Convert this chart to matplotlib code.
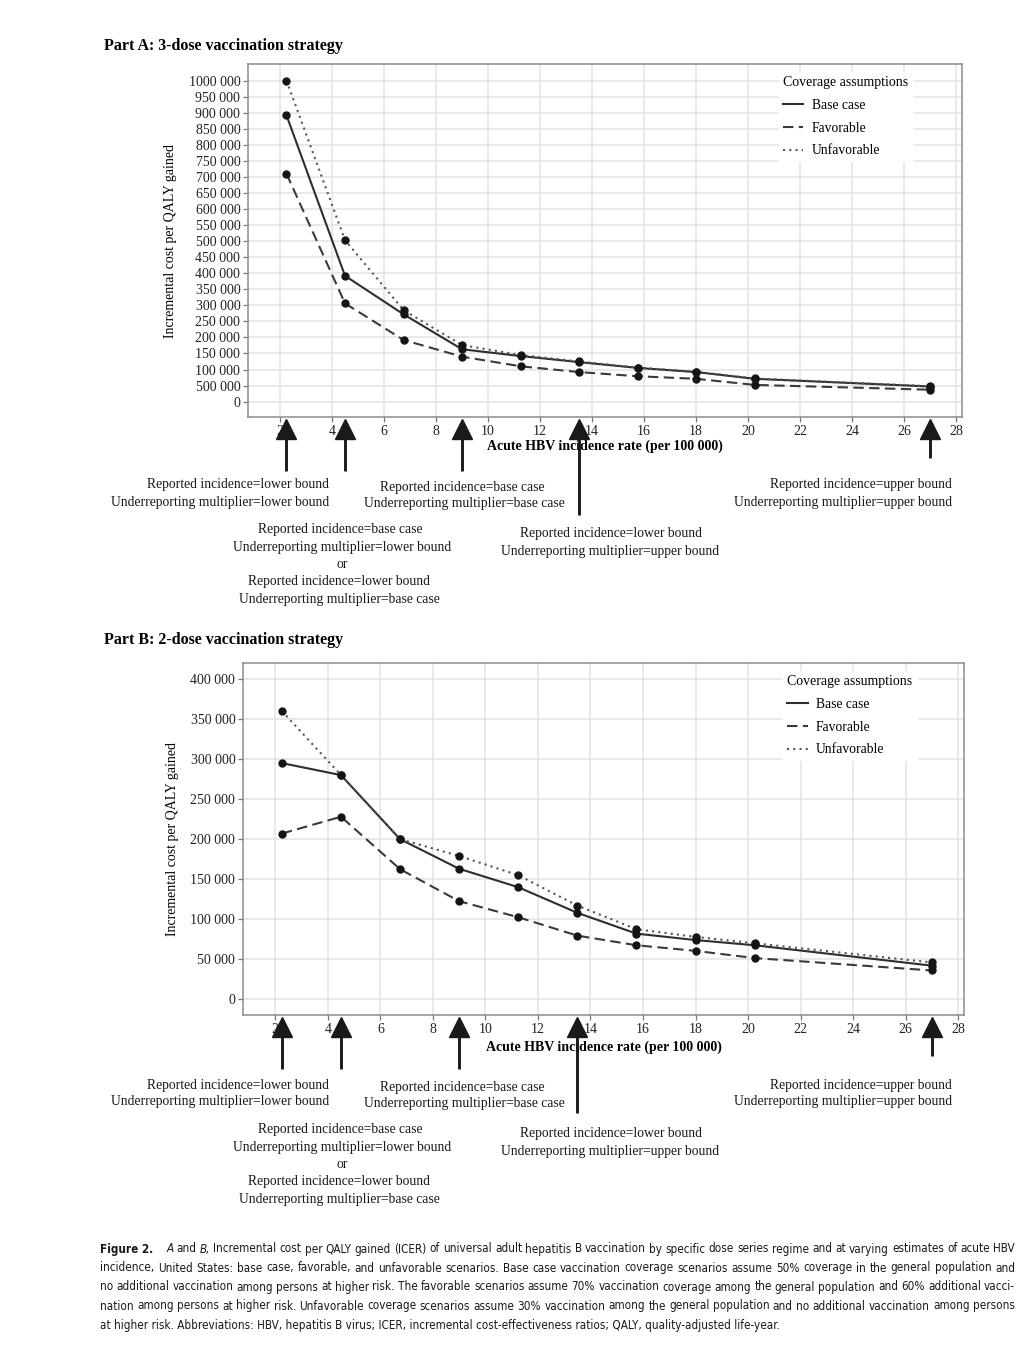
import matplotlib
matplotlib.use('Agg')
import matplotlib.pyplot as plt
from matplotlib import font_manager as fm
from matplotlib.lines import Line2D
from matplotlib.transforms import IdentityTransform

W, H = 1034, 1353
DPI = 100

# incidence values (per 100 000) at which ICER was evaluated
incidence = [2.25, 4.5, 6.75, 9.0, 11.25, 13.5, 15.75, 18.0, 20.25, 27.0]

# Part A: 3-dose strategy, cost per QALY gained
a_base = [892000, 392000, 272000, 163000, 142000, 123000, 105000, 92000, 71000, 47000]
a_favorable = [710000, 306000, 192000, 140000, 110000, 92000, 79000, 71000, 52000, 37000]
a_unfavorable = [1000000, 503000, 285000, 176000, 145000, 125000, 106000, 93000, 72000, 48000]

# Part B: 2-dose strategy
b_base = [295000, 280000, 200000, 163000, 140000, 108000, 82000, 74000, 67500, 42000]
b_favorable = [207000, 228000, 162500, 122500, 102500, 79500, 67500, 60500, 51500, 36000]
b_unfavorable = [360000, 280000, 200000, 179000, 155000, 117000, 87500, 78000, 70000, 46000]

x_ticks = list(range(2, 29, 2))
a_yticks = list(range(0, 1000001, 50000))
# labels as printed in the figure (including the "500 000" for 50 000)
a_ylabels = ['0', '500 000', '100 000', '150 000', '200 000', '250 000', '300 000',
             '350 000', '400 000', '450 000', '500 000', '550 000', '600 000', '650 000',
             '700 000', '750 000', '800 000', '850 000', '900 000', '950 000', '1000 000']
b_yticks = list(range(0, 400001, 50000))
b_ylabels = ['0', '50 000', '100 000', '150 000', '200 000', '250 000', '300 000',
             '350 000', '400 000']

# arrows marking scenario incidence values
arrow_x = [2.25, 4.5, 9.0, 13.5, 27.0]
arrow_end = [54, 54, 54, 98, 41]   # stem end below the axis, px

series_names = ['Base case', 'Favorable', 'Unfavorable']

SERIF = ['Liberation Serif', 'DejaVu Serif']
plt.rcParams['font.family'] = SERIF

cap_lines = [
    'Figure 2. A and B, Incremental cost per QALY gained (ICER) of universal adult hepatitis B '
    'vaccination by specific dose series regime and at varying estimates of acute HBV',
    'incidence, United States: base case, favorable, and unfavorable scenarios. Base case '
    'vaccination coverage scenarios assume 50% coverage in the general population and',
    'no additional vaccination among persons at higher risk. The favorable scenarios assume '
    '70% vaccination coverage among the general population and 60% additional vacci-',
    'nation among persons at higher risk. Unfavorable coverage scenarios assume 30% '
    'vaccination among the general population and no additional vaccination among persons',
    'at higher risk. Abbreviations: HBV, hepatitis B virus; ICER, incremental '
    'cost-effectiveness ratios; QALY, quality-adjusted life-year.',
]
cap_y = [1249, 1268, 1287, 1306, 1325]
cap_x0, cap_x1 = 100, 1015

fig = plt.figure(figsize=(W / DPI, H / DPI), dpi=DPI)
fig.patch.set_facecolor('white')
renderer = fig.canvas.get_renderer()


def widest_line(kw, size=10):
    t = fig.text(0, 0, '', transform=IdentityTransform(), fontsize=size, **kw)
    wmax = 0
    for line in cap_lines:
        t.set_text(line)
        wmax = max(wmax, t.get_window_extent(renderer).width)
    t.remove()
    return wmax


def narrow_font():
    # pick the narrowest condensed sans that is installed, for the caption
    tries = [dict(family='Liberation Sans Narrow'),
             dict(family='Noto Sans', stretch='extra-condensed'),
             dict(family='Noto Sans', stretch='condensed'),
             dict(family='Open Sans', stretch='condensed'),
             dict(family='Roboto', stretch='condensed'),
             dict(family='DejaVu Sans', stretch='condensed'),
             dict(family='DejaVu Sans Condensed')]
    best, best_w = dict(family='DejaVu Sans'), None
    for kw in tries:
        try:
            path = fm.findfont(fm.FontProperties(**kw), fallback_to_default=False)
        except ValueError:
            continue
        if 'arrow' not in path and 'ondensed' not in path:
            continue
        w = widest_line(kw)
        if best_w is None or w < best_w:
            best, best_w = kw, w
    return best


CAP_FONT = narrow_font()

styles = [dict(ls='-', lw=1.5, color='#2e2e2e'),
          dict(ls=(0, (5, 2.6)), lw=1.5, color='#3a3a3a'),
          dict(ls=(0, (1, 2.0)), lw=1.5, color='#555555')]


def px_rect(left, top, right, bottom):
    return [left / W, 1 - bottom / H, (right - left) / W, (bottom - top) / H]


def panel(rect, title, title_y, series, yticks, ylabels, ylim, ylab_x, xlab_y, leg_anchor):
    ax = fig.add_axes(px_rect(*rect))
    for vals, st, name in zip(series, styles, series_names):
        ax.plot(incidence, vals, zorder=3, **st)
        ax.plot(incidence, vals, ls='none', marker='o', ms=5, color='#151515', zorder=4)
    ax.set_xlim(0.77, 28.22)
    ax.set_ylim(*ylim)
    ax.set_xticks(x_ticks)
    ax.set_yticks(yticks)
    ax.set_yticklabels(ylabels)
    ax.grid(True, color='#e3e3e3', lw=1.1, zorder=0)
    ax.set_axisbelow(True)
    for s in ax.spines.values():
        s.set_color('#8c8c8c')
        s.set_linewidth(1.1)
    ax.tick_params(length=3.5, width=0.9, color='#777777', labelsize=10,
                   labelcolor='#222222', pad=2)
    ax.set_xlabel('Acute HBV incidence rate (per 100 000)', fontsize=10, fontweight='bold')
    ax.set_ylabel('Incremental cost per QALY gained', fontsize=10)
    ax.xaxis.set_label_coords(0.5, xlab_y)
    ax.yaxis.set_label_coords(ylab_x, 0.5)
    handles = [Line2D([], [], **st) for st in styles]
    leg = ax.legend(handles, series_names, title='Coverage assumptions', loc='upper left',
                    bbox_to_anchor=leg_anchor, frameon=True, fancybox=False,
                    edgecolor='white', framealpha=1, alignment='left', fontsize=9.8,
                    title_fontsize=10, handlelength=1.5, handletextpad=0.6,
                    labelspacing=0.72, borderpad=0.3)
    leg.set_zorder(5)
    fig.text(104 / W, 1 - title_y / H, title, fontsize=11.5, fontweight='bold',
             va='center', ha='left')

    # arrows below the x axis
    h = rect[3] - rect[1]
    tr = ax.get_xaxis_transform()
    for x, end in zip(arrow_x, arrow_end):
        ax.plot([x, x], [-20 / h, -end / h], color='#1a1a1a', lw=2.1,
                transform=tr, clip_on=False, solid_capstyle='butt', zorder=6)
        ax.plot([x], [-11.5 / h], marker='^', ms=14.5, color='#1a1a1a', mec='#1a1a1a',
                transform=tr, clip_on=False, zorder=6)
    return ax


ax_a = panel((248, 64, 962, 417), 'Part A: 3-dose vaccination strategy', 46,
             [a_base, a_favorable, a_unfavorable], a_yticks, a_ylabels,
             (-48000, 1052000), -0.0994, -0.064, (0.734, 0.997))
ax_b = panel((243, 663, 964, 1015), 'Part B: 2-dose vaccination strategy', 640,
             [b_base, b_favorable, b_unfavorable], b_yticks, b_ylabels,
             (-19600, 420000), -0.0888, -0.072, (0.740, 0.997))

# scenario annotations (x px, y px, alignment, text); Part B is shifted by dy
notes = [
    (329, 485, 'right', 'Reported incidence=lower bound'),
    (329, 502, 'right', 'Underreporting multiplier=lower bound'),
    (462, 488, 'center', 'Reported incidence=base case'),
    (464, 503, 'center', 'Underreporting multiplier=base case'),
    (952, 485, 'right', 'Reported incidence=upper bound'),
    (952, 502, 'right', 'Underreporting multiplier=upper bound'),
    (340, 530, 'center', 'Reported incidence=base case'),
    (342, 548, 'center', 'Underreporting multiplier=lower bound'),
    (342, 564, 'center', 'or'),
    (339, 581, 'center', 'Reported incidence=lower bound'),
    (339, 599, 'center', 'Underreporting multiplier=base case'),
    (611, 533, 'center', 'Reported incidence=lower bound'),
    (610, 551, 'center', 'Underreporting multiplier=upper bound'),
]
for dy in (0, 600):
    for x, y, ha, txt in notes:
        fig.text(x / W, 1 - (y + dy) / H, txt, ha=ha, va='center', fontsize=9.8,
                 color='#1a1a1a')

# caption, justified line by line; size chosen so the widest line fits
cap_size = min(10.5, 10.0 * (cap_x1 - cap_x0) / (widest_line(CAP_FONT) + 10))

for i, (line, y) in enumerate(zip(cap_lines, cap_y)):
    if i == len(cap_lines) - 1:
        fig.text(cap_x0, H - y, line, transform=IdentityTransform(),
                 fontsize=cap_size, va='center', color='#1a1a1a', **CAP_FONT)
        continue
    words = line.split(' ')
    if i == 0:
        words = ['Figure 2.'] + words[2:]
    arts = []
    for j, w in enumerate(words):
        kw = {}
        if i == 0 and j == 0:
            kw['fontweight'] = 'bold'
        if i == 0 and j in (1, 3):
            kw['fontstyle'] = 'italic'
        t = fig.text(0, H - y, w, transform=IdentityTransform(),
                     fontsize=cap_size, va='center', color='#1a1a1a', **CAP_FONT, **kw)
        arts.append(t)
    widths = [t.get_window_extent(renderer).width for t in arts]
    weights = [1.0] * (len(arts) - 1)
    if i == 0:
        weights[0] = 4.0
    gap = (cap_x1 - cap_x0 - sum(widths)) / sum(weights)
    x = cap_x0
    for j, t in enumerate(arts):
        t.set_x(x)
        x += widths[j] + (gap * weights[j] if j < len(weights) else 0)

fig.savefig('out.png', dpi=DPI, facecolor='white')
